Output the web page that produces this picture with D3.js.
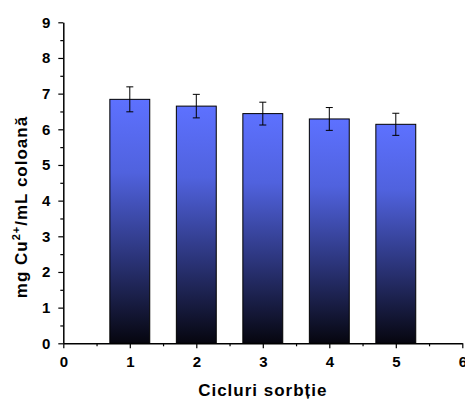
<!DOCTYPE html>
<html>
<head>
<meta charset="utf-8">
<script src="https://cdn.jsdelivr.net/npm/d3@7"></script>
<style>
  body { margin: 0; background: #fff; }
  svg { display: block; }
  svg text { font-family: "Liberation Sans", Arial, sans-serif !important; font-weight: bold !important; fill: #000; }
</style>
</head>
<body>
<div id="chart"></div>
<script>
const cycles = [1, 2, 3, 4, 5];
const capacity = [6.84, 6.65, 6.44, 6.29, 6.14];
const errors = [0.35, 0.33, 0.32, 0.32, 0.31];
const xTicks = [0, 1, 2, 3, 4, 5, 6];
const yTicks = [0, 1, 2, 3, 4, 5, 6, 7, 8, 9];

const W = 465, H = 401;
const margin = {top: 22.3, right: 2.7, bottom: 57.7, left: 63.3};
const width = W - margin.left - margin.right,
  height = H - margin.top - margin.bottom;

const svg = d3.select("#chart")
  .append("svg")
  .attr("width", W)
  .attr("height", H);

const defs = svg.append("defs");
const grad = defs.append("linearGradient")
  .attr("id", "barGrad")
  .attr("x1", 0).attr("y1", 0).attr("x2", 0).attr("y2", 1);
grad.append("stop").attr("offset", "0%").attr("stop-color", "#5d71ff");
grad.append("stop").attr("offset", "30%").attr("stop-color", "#5062de");
grad.append("stop").attr("offset", "65%").attr("stop-color", "#2b3479");
grad.append("stop").attr("offset", "100%").attr("stop-color", "#06060f");

const g = svg.append("g")
  .attr("transform", `translate(${margin.left},${margin.top})`);

const x = d3.scaleLinear().domain([0, 6]).range([0, width]);
const y = d3.scaleLinear().domain([0, 9]).range([height, 0]);

const barW = 0.6;

// bars
g.selectAll("rect.bar")
  .data(cycles)
  .join("rect")
  .attr("class", "bar")
  .attr("x", (d) => x(d - barW / 2))
  .attr("width", x(barW) - x(0))
  .attr("y", (d, i) => y(capacity[i]))
  .attr("height", (d, i) => y(0) - y(capacity[i]))
  .attr("fill", "url(#barGrad)")
  .attr("stroke", "#000")
  .attr("stroke-width", 1);

// error bars
const errG = g.selectAll("g.err")
  .data(cycles)
  .join("g")
  .attr("class", "err")
  .attr("stroke", "#000")
  .attr("stroke-width", 1);

errG.append("line")
  .attr("x1", (d) => x(d)).attr("x2", (d) => x(d))
  .attr("y1", (d, i) => y(capacity[i] + errors[i]))
  .attr("y2", (d, i) => y(capacity[i] - errors[i]));
errG.append("line")
  .attr("x1", (d) => x(d) - 3.5).attr("x2", (d) => x(d) + 3.5)
  .attr("y1", (d, i) => y(capacity[i] + errors[i]))
  .attr("y2", (d, i) => y(capacity[i] + errors[i]));
errG.append("line")
  .attr("x1", (d) => x(d) - 3.5).attr("x2", (d) => x(d) + 3.5)
  .attr("y1", (d, i) => y(capacity[i] - errors[i]))
  .attr("y2", (d, i) => y(capacity[i] - errors[i]));

// minor ticks
g.append("g")
  .attr("transform", `translate(0,${height})`)
  .call(d3.axisBottom(x).tickValues(xTicks.slice(0, -1).map(v => v + 0.5)).tickSize(3).tickFormat(""))
  .call(a => a.select(".domain").remove())
  .selectAll("line").attr("stroke-width", 1.2);

g.append("g")
  .call(d3.axisLeft(y).tickValues(yTicks.slice(0, -1).map(v => v + 0.5)).tickSize(3).tickFormat(""))
  .call(a => a.select(".domain").remove())
  .selectAll("line").attr("stroke-width", 1.2);

// major axes
const xAxis = g.append("g")
  .attr("transform", `translate(0,${height})`)
  .call(d3.axisBottom(x).tickValues(xTicks).tickFormat(d3.format("d")).tickSize(5).tickSizeOuter(0).tickPadding(8));

const yAxis = g.append("g")
  .call(d3.axisLeft(y).tickValues(yTicks).tickFormat(d3.format("d")).tickSize(5).tickSizeOuter(0).tickPadding(8));

[xAxis, yAxis].forEach(a => {
  a.select(".domain").attr("stroke-width", 1.5);
  a.selectAll(".tick line").attr("stroke-width", 1.2);
  a.selectAll(".tick text").style("font-size", "15px");
});

// axis titles
svg.append("text")
  .attr("x", margin.left + x(3.0))
  .attr("y", 396)
  .attr("text-anchor", "middle")
  .style("font-size", "17px")
  .style("letter-spacing", "1px")
  .text("Cicluri sorbție");

const yTitle = svg.append("text")
  .attr("transform", "translate(27,207) rotate(-90)")
  .attr("text-anchor", "middle")
  .style("font-size", "17px")
  .style("letter-spacing", "1px");
yTitle.append("tspan").text("mg Cu");
yTitle.append("tspan").attr("dy", -7).style("font-size", "11px").text("2+");
yTitle.append("tspan").attr("dy", 7).text("/mL coloană");
</script>
</body>
</html>
